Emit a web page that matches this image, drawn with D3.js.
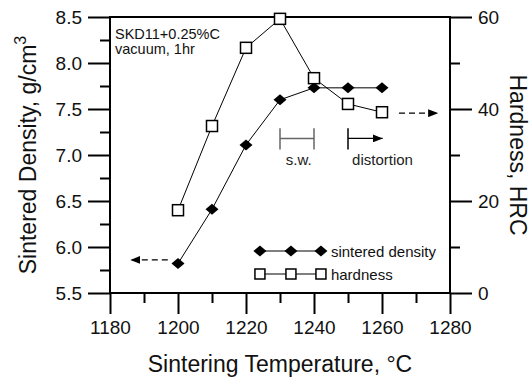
<!DOCTYPE html>
<html>
<head>
<meta charset="utf-8">
<script src="https://cdn.jsdelivr.net/npm/d3@7"></script>
<style>
  body { margin: 0; background: #fff; }
  svg { font-family: "Liberation Sans", Arial, Helvetica, sans-serif; }
</style>
</head>
<body>
<div id="chart"></div>
<script>
// Data
const temps = [1200, 1210, 1220, 1230, 1240, 1250, 1260];
const density = [5.82, 6.41, 7.11, 7.60, 7.73, 7.73, 7.73];
const hardness = [18.0, 36.3, 53.3, 59.6, 46.7, 41.1, 39.3];

const xTicks = [1180, 1200, 1220, 1240, 1260, 1280];
const xMinor = [1190, 1210, 1230, 1250, 1270];
const densityTicks = [5.5, 6.0, 6.5, 7.0, 7.5, 8.0, 8.5];
const densityMinor = [5.75, 6.25, 6.75, 7.25, 7.75, 8.25];
const hardnessTicks = [0, 20, 40, 60];
const hardnessMinor = [10, 30, 50];

const legendItems = ['sintered density', 'hardness'];

// dimensions
let margin = { top: 17, right: 82, bottom: 86, left: 110 },
    W = 532, H = 379,
    width = W - margin.left - margin.right,
    height = H - margin.top - margin.bottom;

let svg = d3.select('#chart').append('svg')
    .attr('width', W)
    .attr('height', H);

let g = svg.append('g')
    .attr('transform', `translate(${margin.left},${margin.top})`);

let x = d3.scaleLinear().domain([1180, 1280]).range([0, width]);
let yL = d3.scaleLinear().domain([5.5, 8.5]).range([height, 0]);
let yR = d3.scaleLinear().domain([0, 60]).range([height, 0]);

// arrowheads
let defs = svg.append('defs');
defs.append('marker')
    .attr('id', 'arrow')
    .attr('viewBox', '0 0 10 8')
    .attr('refX', 10).attr('refY', 4)
    .attr('markerWidth', 10).attr('markerHeight', 8)
    .attr('markerUnits', 'userSpaceOnUse')
    .attr('orient', 'auto')
    .append('path')
    .attr('d', 'M0,0 L10,4 L0,8 Z')
    .attr('fill', '#000');

// axes (major + minor ticks, outward)
function styleAxis(sel) {
    sel.select('.domain').remove();
    sel.selectAll('line').attr('stroke', '#000').attr('stroke-width', 2);
    sel.selectAll('text').attr('font-size', 19).attr('fill', '#111');
}

g.append('g').attr('transform', `translate(0,${height})`)
    .call(d3.axisBottom(x).tickValues(xTicks).tickSize(21).tickPadding(7).tickFormat(d3.format('d')))
    .call(styleAxis);
g.append('g').attr('transform', `translate(0,${height})`)
    .call(d3.axisBottom(x).tickValues(xMinor).tickSize(10).tickFormat(''))
    .call(styleAxis);

g.append('g')
    .call(d3.axisLeft(yL).tickValues(densityTicks).tickSize(22).tickPadding(6).tickFormat(d3.format('.1f')))
    .call(styleAxis);
g.append('g')
    .call(d3.axisLeft(yL).tickValues(densityMinor).tickSize(10).tickFormat(''))
    .call(styleAxis);

g.append('g').attr('transform', `translate(${width},0)`)
    .call(d3.axisRight(yR).tickValues(hardnessTicks).tickSize(22).tickPadding(6))
    .call(styleAxis);
g.append('g').attr('transform', `translate(${width},0)`)
    .call(d3.axisRight(yR).tickValues(hardnessMinor).tickSize(10).tickFormat(''))
    .call(styleAxis);

// frame
g.append('rect')
    .attr('width', width).attr('height', height)
    .attr('fill', 'none').attr('stroke', '#000').attr('stroke-width', 2);

// axis titles
svg.append('text')
    .attr('x', margin.left + width / 2).attr('y', 372)
    .attr('text-anchor', 'middle').attr('font-size', 23).attr('fill', '#111')
    .text('Sintering Temperature, °C');

let lt = svg.append('text')
    .attr('transform', `translate(36,${margin.top + height / 2}) rotate(-90)`)
    .attr('text-anchor', 'middle').attr('font-size', 23).attr('fill', '#111');
lt.append('tspan').text('Sintered Density, g/cm');
lt.append('tspan').attr('font-size', 16).attr('dy', -10).text('3');

svg.append('text')
    .attr('transform', `translate(510,${margin.top + height / 2}) rotate(90)`)
    .attr('text-anchor', 'middle').attr('font-size', 23).attr('fill', '#111')
    .text('Hardness, HRC');

// series lines
let lineL = d3.line().x((d, i) => x(temps[i])).y(d => yL(d));
let lineR = d3.line().x((d, i) => x(temps[i])).y(d => yR(d));

g.append('path').datum(density).attr('d', lineL)
    .attr('fill', 'none').attr('stroke', '#000').attr('stroke-width', 1);
g.append('path').datum(hardness).attr('d', lineR)
    .attr('fill', 'none').attr('stroke', '#000').attr('stroke-width', 1);

const diamond = 'M0,-5.5 L6.5,0 L0,5.5 L-6.5,0 Z';

g.selectAll('path.dia').data(density).enter().append('path')
    .attr('class', 'dia')
    .attr('transform', (d, i) => `translate(${x(temps[i])},${yL(d)})`)
    .attr('d', diamond)
    .attr('fill', '#000');

g.selectAll('rect.sq').data(hardness).enter().append('rect')
    .attr('class', 'sq')
    .attr('x', (d, i) => x(temps[i]) - 5.5)
    .attr('y', d => yR(d) - 5.5)
    .attr('width', 11).attr('height', 11)
    .attr('fill', '#fff').attr('stroke', '#000').attr('stroke-width', 1.5);

// dashed arrows pointing to the axis each series belongs to
g.append('line')
    .attr('x1', x(1197)).attr('x2', x(1186))
    .attr('y1', yL(5.86)).attr('y2', yL(5.86))
    .attr('stroke', '#000').attr('stroke-width', 1.2)
    .attr('stroke-dasharray', '6,4')
    .attr('marker-end', 'url(#arrow)');
g.append('line')
    .attr('x1', x(1265)).attr('x2', x(1276.5))
    .attr('y1', yR(39.1)).attr('y2', yR(39.1))
    .attr('stroke', '#000').attr('stroke-width', 1.2)
    .attr('stroke-dasharray', '6,4')
    .attr('marker-end', 'url(#arrow)');

// s.w. range bracket
let swTop = yL(7.29), swBot = yL(7.06), swMid = yL(7.18);
let sw = g.append('g').attr('stroke', '#666').attr('stroke-width', 1.5);
sw.append('line').attr('x1', x(1230)).attr('x2', x(1230)).attr('y1', swTop).attr('y2', swBot);
sw.append('line').attr('x1', x(1240)).attr('x2', x(1240)).attr('y1', swTop).attr('y2', swBot);
sw.append('line').attr('x1', x(1230)).attr('x2', x(1240)).attr('y1', swMid).attr('y2', swMid);
g.append('text')
    .attr('x', x(1235.5)).attr('y', swBot + 16)
    .attr('text-anchor', 'middle').attr('font-size', 15).attr('fill', '#222')
    .text('s.w.');

// distortion onset
g.append('line').attr('x1', x(1250)).attr('x2', x(1250)).attr('y1', swTop).attr('y2', swBot)
    .attr('stroke', '#000').attr('stroke-width', 1.5);
g.append('line').attr('x1', x(1250)).attr('x2', x(1260.2)).attr('y1', swMid).attr('y2', swMid)
    .attr('stroke', '#000').attr('stroke-width', 1.2)
    .attr('marker-end', 'url(#arrow)');
g.append('text')
    .attr('x', x(1251.2)).attr('y', swBot + 16)
    .attr('font-size', 15).attr('fill', '#222')
    .text('distortion');

// composition note
let note = g.append('text').attr('font-size', 14.5).attr('fill', '#111');
note.append('tspan').attr('x', 5).attr('y', 22).text('SKD11+0.25%C');
note.append('tspan').attr('x', 5).attr('y', 37).text('vacuum, 1hr');

// legend
let legend = g.append('g').attr('transform', `translate(${x(1224.1)},${height - 42})`);
legendItems.forEach((name, k) => {
    let row = legend.append('g').attr('transform', `translate(0,${k * 23})`);
    row.append('line').attr('x1', 0).attr('x2', 61).attr('y1', 0).attr('y2', 0)
        .attr('stroke', '#000').attr('stroke-width', 1);
    [0, 31, 61].forEach(px => {
        if (k === 0) {
            row.append('path').attr('transform', `translate(${px},0)`)
                .attr('d', diamond).attr('fill', '#000');
        } else {
            row.append('rect').attr('x', px - 5).attr('y', -5)
                .attr('width', 10).attr('height', 10)
                .attr('fill', '#fff').attr('stroke', '#000').attr('stroke-width', 1.5);
        }
    });
    row.append('text').attr('x', 71).attr('y', 5.5)
        .attr('font-size', 15).attr('fill', '#111')
        .text(name);
});
</script>
</body>
</html>
